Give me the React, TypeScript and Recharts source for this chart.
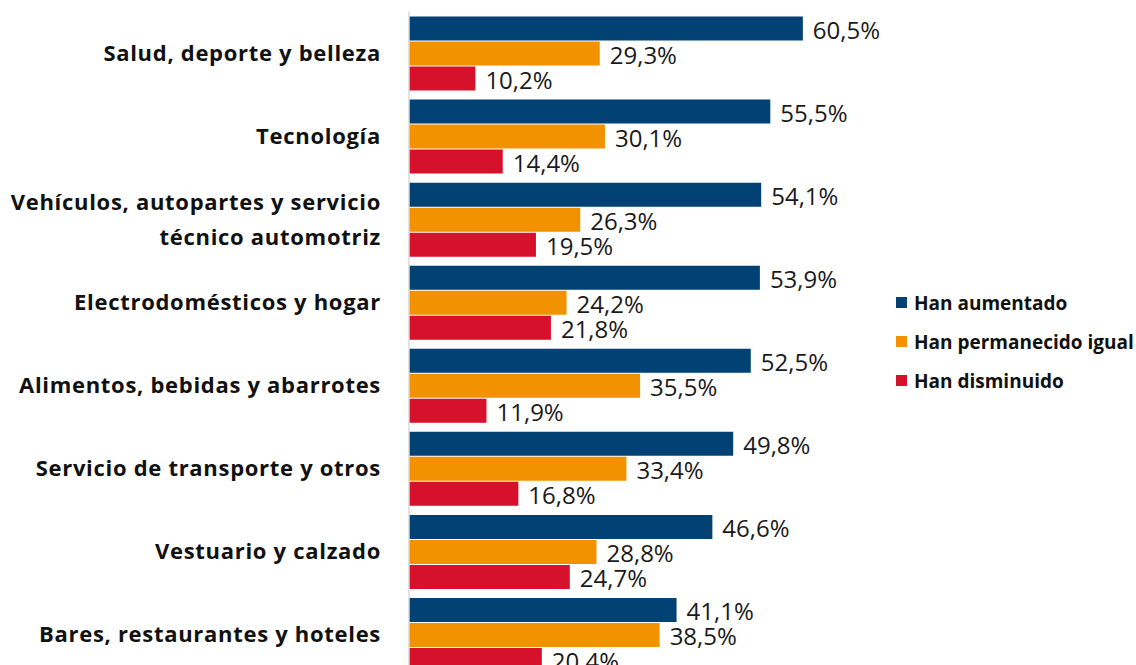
import React from 'react';
import { BarChart, Bar, XAxis, YAxis, LabelList, Legend } from 'recharts';

const categories = [
  'Salud, deporte y belleza',
  'Tecnología',
  'Vehículos, autopartes y servicio\ntécnico automotriz',
  'Electrodomésticos y hogar',
  'Alimentos, bebidas y abarrotes',
  'Servicio de transporte y otros',
  'Vestuario y calzado',
  'Bares, restaurantes y hoteles',
];
const aumentado = [60.5, 55.5, 54.1, 53.9, 52.5, 49.8, 46.6, 41.1];
const igual = [29.3, 30.1, 26.3, 24.2, 35.5, 33.4, 28.8, 38.5];
const disminuido = [10.2, 14.4, 19.5, 21.8, 11.9, 16.8, 24.7, 20.4];
const disminuidoLabels = ['10,2%', '14,4%', '19,5%', '21,8%', '11,9%', '16,8%', '24,7%', '20.4%'];

const seriesNames = ['Han aumentado', 'Han permanecido igual', 'Han disminuido'];
const colors = ['#024174', '#F39200', '#D5112B'];

const data = categories.map((name, i) => ({
  name,
  a: aumentado[i],
  b: igual[i],
  c: disminuido[i],
}));

const FONT = '"Open Sans", sans-serif';

const fmt = (v: any) => `${Number(v).toFixed(1).replace('.', ',')}%`;

const makeLabel = (custom?: string[]) => (props: any) => {
  const { x, y, width, height, value, index } = props;
  const text = custom ? custom[index] : fmt(value);
  return (
    <text
      x={Number(x) + Number(width) + 10}
      y={Number(y) + Number(height) / 2 + 1}
      dominantBaseline="central"
      fontFamily={FONT}
      fontSize={24}
      fill="#1a1a1a"
    >
      {text}
    </text>
  );
};

const CategoryTick = (props: any) => {
  const { x, y, payload } = props;
  const lines = String(payload.value).split('\n');
  const lh = 35;
  const start = y - 1 - ((lines.length - 1) * lh) / 2;
  return (
    <g>
      {lines.map((l, i) => (
        <text
          key={i}
          x={x}
          y={start + i * lh}
          textAnchor="end"
          dominantBaseline="central"
          fontFamily={FONT}
          fontWeight={700}
          fontSize={22}
          letterSpacing={0.7}
          fill="#111"
        >
          {l}
        </text>
      ))}
    </g>
  );
};

const LegendContent = () => (
  <div style={{ fontFamily: FONT, fontWeight: 700, fontSize: 19, color: '#111' }}>
    {seriesNames.map((n, i) => (
      <div key={n} style={{ display: 'flex', alignItems: 'center', height: 39, whiteSpace: 'nowrap' }}>
        <span style={{ display: 'inline-block', width: 11, height: 11, background: colors[i], marginRight: 7 }} />
        {n}
      </div>
    ))}
  </div>
);

export default function App() {
  return (
    <div style={{ position: 'absolute', left: 0, top: 0, width: 1136, height: 665, overflow: 'hidden', background: '#fff' }}>
      <BarChart
        width={1136}
        height={676}
        data={data}
        layout="vertical"
        margin={{ top: 11.5, right: 76, bottom: 0, left: 0 }}
        barSize={24}
        barGap={1}
      >
        <XAxis type="number" domain={[0, 100]} hide />
        <YAxis
          type="category"
          dataKey="name"
          width={409}
          axisLine={{ stroke: '#D9D9D9', strokeWidth: 1.5 }}
          tickLine={false}
          tickSize={0}
          tickMargin={28}
          tick={<CategoryTick />}
          interval={0}
        />
        <Legend
          layout="horizontal"
          verticalAlign="middle"
          align="center"
          wrapperStyle={{ position: 'absolute', left: 896, top: 283, width: 240 }}
          content={<LegendContent />}
        />
        <Bar dataKey="a" name={seriesNames[0]} fill={colors[0]} isAnimationActive={false}>
          <LabelList dataKey="a" content={makeLabel()} />
        </Bar>
        <Bar dataKey="b" name={seriesNames[1]} fill={colors[1]} isAnimationActive={false}>
          <LabelList dataKey="b" content={makeLabel()} />
        </Bar>
        <Bar dataKey="c" name={seriesNames[2]} fill={colors[2]} isAnimationActive={false}>
          <LabelList dataKey="c" content={makeLabel(disminuidoLabels)} />
        </Bar>
      </BarChart>
    </div>
  );
}
